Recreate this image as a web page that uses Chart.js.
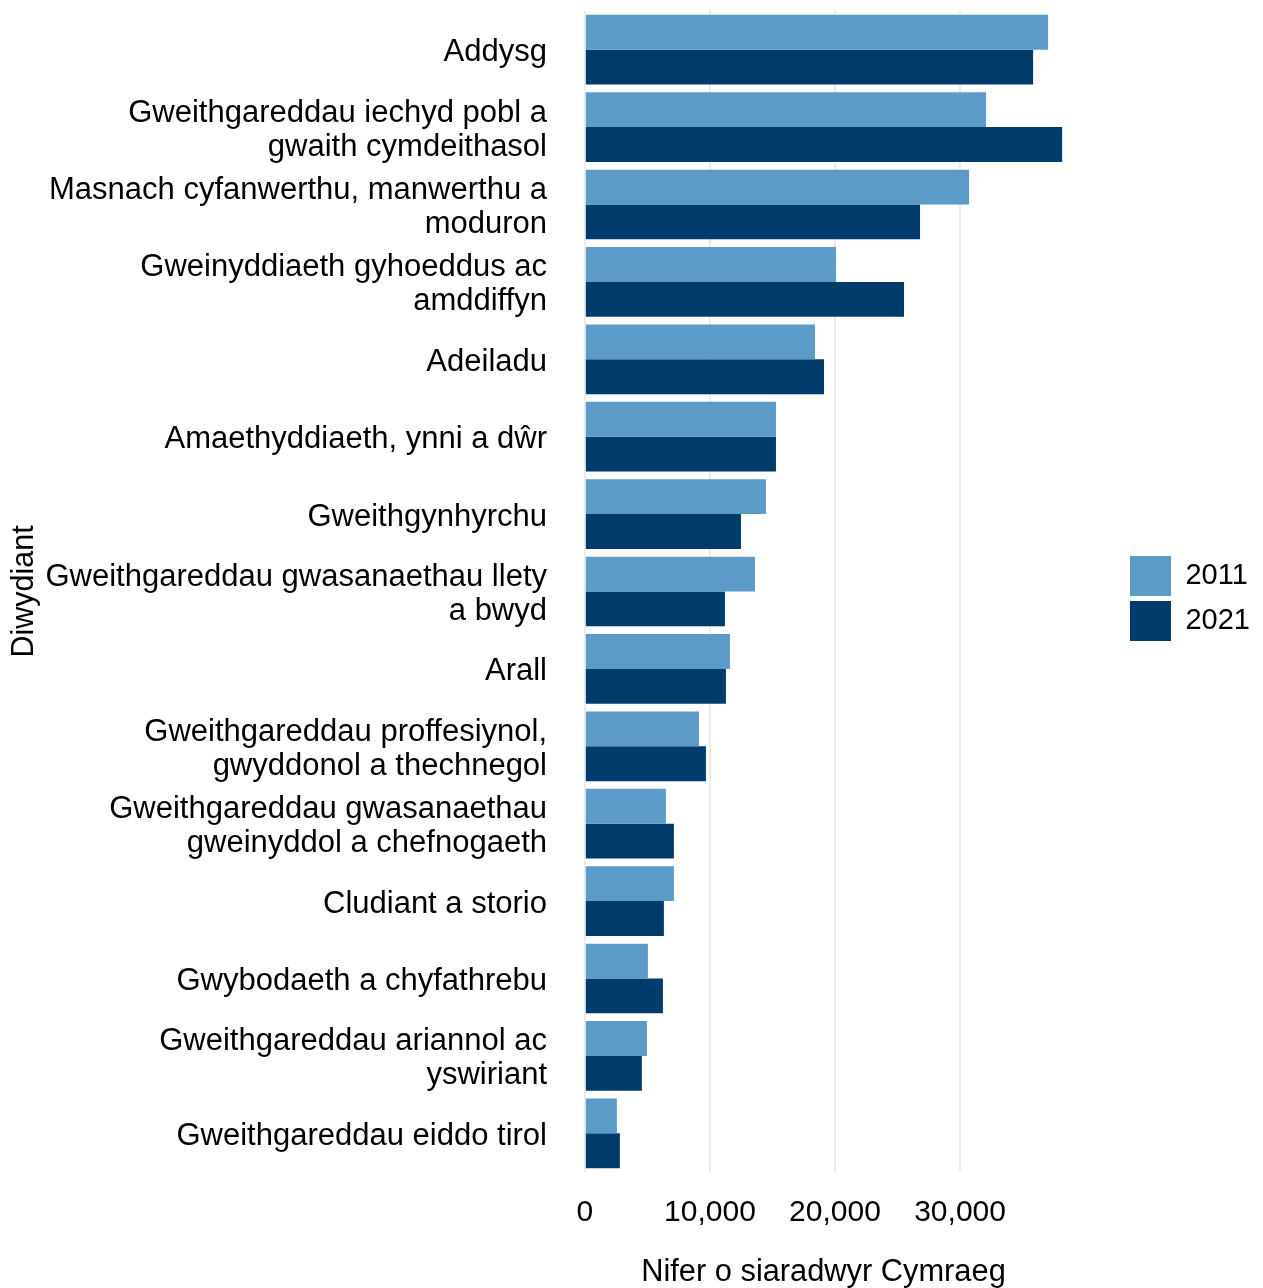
<!DOCTYPE html>
<html>
<head>
<meta charset="utf-8">
<script src="https://cdn.jsdelivr.net/npm/chart.js@4/dist/chart.umd.min.js"></script>
<style>
  html, body { margin: 0; padding: 0; background: #fff; }
  #wrap { width: 1263px; height: 1288px; }
</style>
</head>
<body>
<div id="wrap"><canvas id="chart"></canvas></div>
<script>
// categories, top to bottom
const industries = [
  "Addysg",
  ["Gweithgareddau iechyd pobl a", "gwaith cymdeithasol"],
  ["Masnach cyfanwerthu, manwerthu a", "moduron"],
  ["Gweinyddiaeth gyhoeddus ac", "amddiffyn"],
  "Adeiladu",
  "Amaethyddiaeth, ynni a dŵr",
  "Gweithgynhyrchu",
  ["Gweithgareddau gwasanaethau llety", "a bwyd"],
  "Arall",
  ["Gweithgareddau proffesiynol,", "gwyddonol a thechnegol"],
  ["Gweithgareddau gwasanaethau", "gweinyddol a chefnogaeth"],
  "Cludiant a storio",
  "Gwybodaeth a chyfathrebu",
  ["Gweithgareddau ariannol ac", "yswiriant"],
  "Gweithgareddau eiddo tirol"
];

const speakers2011 = [37040, 32080, 30720, 20080, 18400, 15280, 14480, 13600, 11600, 9120, 6480, 7120, 5040, 4960, 2560];
const speakers2021 = [35840, 38160, 26800, 25520, 19120, 15280, 12480, 11200, 11280, 9680, 7120, 6320, 6240, 4560, 2800];

const xTicks = [0, 10000, 20000, 30000];

const COL_2011 = "#5c9ac7";
const COL_2021 = "#003c6b";
const FONT = "'Liberation Sans', Arial, Helvetica, sans-serif";

// ggplot-style 5% expansion on the value axis
const dataMax = Math.max(...speakers2011, ...speakers2021);
const xMin = -0.05 * dataMax;
const xMax = dataMax * 1.05;

new Chart(document.getElementById("chart"), {
  type: "bar",
  data: {
    labels: industries,
    datasets: [
      { label: "2011", data: speakers2011, backgroundColor: COL_2011, borderWidth: 0 },
      { label: "2021", data: speakers2021, backgroundColor: COL_2021, borderWidth: 0 },
    ],
  },
  options: {
    indexAxis: "y",
    responsive: true,
    maintainAspectRatio: false,
    animation: false,
    datasets: { bar: { categoryPercentage: 0.9, barPercentage: 1.0 } },
    layout: { padding: { top: 11, left: 0, right: 3, bottom: 0 } },
    plugins: {
      legend: {
        position: "right",
        fullSize: false,
        align: "center",
        // blank title only nudges the keys down a little
        title: { display: true, text: " ", font: { size: 10, lineHeight: 1.4 }, padding: 0 },
        labels: {
          boxWidth: 41,
          boxHeight: 40,
          padding: 5,
          color: "#000",
          font: { family: FONT, size: 29 },
        },
      },
      tooltip: { enabled: false },
    },
    scales: {
      x: {
        type: "linear",
        position: "bottom",
        min: xMin,
        max: xMax,
        afterBuildTicks: (s) => { s.ticks = xTicks.map(v => ({ value: v })); },
        afterFit: (s) => { s.height = 116; },
        grid: { color: "#ebebeb", lineWidth: 2, drawTicks: false },
        border: { display: false },
        ticks: {
          padding: 23,
          color: "#000",
          font: { family: FONT, size: 30 },
          callback: (v) => v.toLocaleString("en-US"),
        },
        title: {
          display: true,
          text: "Nifer o siaradwyr Cymraeg",
          color: "#000",
          font: { family: FONT, size: 30.8, lineHeight: 1.0 },
          padding: { top: 0, bottom: 0 },
        },
      },
      y: {
        type: "category",
        position: "left",
        afterFit: (s) => { s.width = 561; s.paddingTop = 0; s.paddingBottom = 0; },
        grid: { display: false, drawTicks: false },
        border: { display: false },
        ticks: {
          autoSkip: false,
          padding: 14,
          labelOffset: 3,
          color: "#000",
          font: { family: FONT, size: 31, lineHeight: "34px" },
        },
        title: {
          display: true,
          text: "Diwydiant",
          color: "#000",
          font: { family: FONT, size: 30.5, lineHeight: 1.2 },
          padding: { top: 6, bottom: 0 },
        },
      },
      // empty spacer between panel and legend
      gap: {
        type: "linear",
        position: "right",
        display: true,
        grid: { display: false, drawTicks: false },
        border: { display: false },
        ticks: { display: false },
        afterFit: (s) => { s.width = 39; s.paddingTop = 0; s.paddingBottom = 0; },
      },
    },
  },
});
</script>
</body>
</html>
